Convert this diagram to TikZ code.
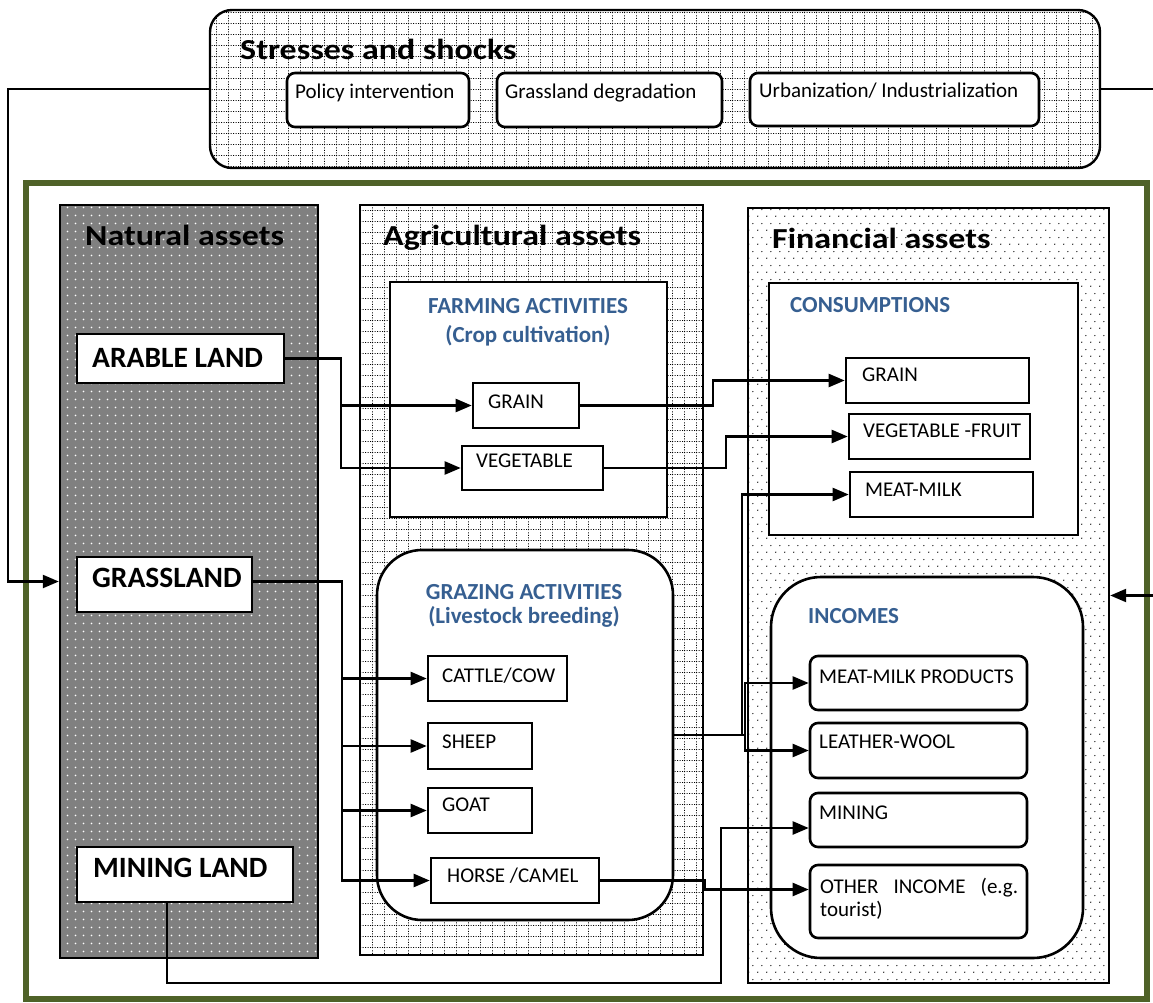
\documentclass[tikz,border=0pt]{standalone}
\usepackage{fontspec}
\setmainfont{Carlito}
\newfontfamily\ttlfont[FakeStretch=1.17]{Carlito}
\usetikzlibrary{arrows.meta,patterns.meta}
\definecolor{frameg}{RGB}{79,98,40}
\definecolor{hblue}{RGB}{54,95,145}
\tikzdeclarepattern{
  name=dgrid, type=uncolored,
  bounding box={(0pt,0pt) and (12pt,11pt)},
  tile size={(12pt,11pt)},
  code={
    \draw[line width=1pt, dash pattern=on 1.2pt off 1.55pt] (0pt,0.5pt) -- (12pt,0.5pt);
    \draw[line width=1pt, dash pattern=on 1.2pt off 1.55pt] (0.5pt,0pt) -- (0.5pt,11pt);
  }
}
\tikzdeclarepattern{
  name=wdots, type=uncolored,
  bounding box={(0pt,0pt) and (8pt,8pt)},
  tile size={(8pt,8pt)},
  code={\fill (4pt,4pt) circle[radius=1pt];}
}
\tikzdeclarepattern{
  name=sdots, type=uncolored,
  bounding box={(0pt,0pt) and (9pt,14pt)},
  tile size={(9pt,14pt)},
  code={\fill (2pt,3pt) circle[radius=0.75pt]; \fill (6.5pt,10pt) circle[radius=0.75pt];}
}
\tikzset{
  panel/.style={draw, line width=2.4pt, inner sep=0pt},
  bx/.style={draw, line width=2.6pt, fill=white, inner sep=0pt},
  rbx/.style={bx, rounded corners=8pt},
  ttl/.style={font=\fontsize{29}{31}\ttlfont\bfseries, inner sep=0pt, anchor=base west},
  land/.style={font=\fontsize{29.5}{31}\selectfont\bfseries, inner sep=0pt, anchor=base west},
  hd/.style={font=\fontsize{23}{26}\selectfont\bfseries, text=hblue, inner sep=0pt},
  lb/.style={font=\fontsize{21}{23}\selectfont, inner sep=0pt, anchor=base west},
  conn/.style={line width=2.3pt},
  arr/.style={conn, -{Triangle[length=16pt,width=13pt]}},
}
\begin{document}
\begin{tikzpicture}[x=1pt,y=-1pt]
\useasboundingbox (0,0) rectangle (1153,1003);
% frame
\node[draw=frameg, line width=6.5pt, inner sep=0pt, minimum width=1121pt, minimum height=816pt] (frame) at (586.5,591) {};
% stresses
\node[panel, rounded corners=22pt, preaction={fill=white}, pattern={dgrid}, pattern color=black, minimum width=890pt, minimum height=158pt] (stress) at (655,89) {};
\node[ttl] (stressT) at (240,60) {Stresses and shocks};
\node[rbx, minimum width=182pt, minimum height=54pt] (pol) at (378,100) {};
\node[rbx, minimum width=225pt, minimum height=54pt] (gdeg) at (609.5,100) {};
\node[rbx, minimum width=289pt, minimum height=53pt] (urb) at (894.5,99.5) {};
\node[lb] (polT) at (295,99) {Policy intervention};
\node[lb] (gdegT) at (505,99) {Grassland degradation};
\node[lb] (urbT) at (759,98) {Urbanization/ Industrialization};
% panels
\node[panel, preaction={fill=black!50}, pattern={wdots}, pattern color=white, minimum width=258pt, minimum height=753pt] (natural) at (189,581.5) {};
\node[panel, preaction={fill=white}, pattern={dgrid}, pattern color=black, minimum width=343pt, minimum height=750pt] (agri) at (531.5,580) {};
\node[panel, preaction={fill=white}, pattern={sdots}, pattern color=black, minimum width=361pt, minimum height=775pt] (fin) at (928.5,595.5) {};
\node[ttl] (naturalT) at (85,245) {Natural assets};
\node[ttl] (agriT) at (383,245) {Agricultural assets};
\node[ttl] (finT) at (772,248) {Financial assets};
% natural
\node[bx, minimum width=207pt, minimum height=49pt] (arable) at (180.5,358.5) {};
\node[bx, minimum width=175pt, minimum height=55pt] (grass) at (164.5,584.5) {};
\node[bx, minimum width=216pt, minimum height=55pt] (mining) at (185,874.5) {};
\node[land] (arableT) at (92,367) {ARABLE LAND};
\node[land] (grassT) at (92,587) {GRASSLAND};
\node[land] (miningT) at (93,877) {MINING LAND};
% agricultural
\node[bx, minimum width=277pt, minimum height=235pt] (farm) at (528.5,399.5) {};
\node[hd, anchor=base] (farmT1) at (528,313) {FARMING ACTIVITIES};
\node[hd, anchor=base] (farmT2) at (528,342) {(Crop cultivation)};
\node[bx, minimum width=106pt, minimum height=45pt] (g1) at (526,405.5) {};
\node[bx, minimum width=141pt, minimum height=44pt] (v1) at (532.5,468) {};
\node[lb] (g1T) at (488,408) {GRAIN};
\node[lb] (v1T) at (476,467) {VEGETABLE};
\node[bx, rounded corners=45pt, minimum width=296pt, minimum height=370pt] (graz) at (525,735) {};
\node[hd, anchor=base] (grazT1) at (524,599) {GRAZING ACTIVITIES};
\node[hd, anchor=base] (grazT2) at (524,623) {(Livestock breeding)};
\node[bx, minimum width=139pt, minimum height=45pt] (cattle) at (497.5,678.5) {};
\node[bx, minimum width=104pt, minimum height=46pt] (sheep) at (480,746) {};
\node[bx, minimum width=104pt, minimum height=45pt] (goat) at (480,810.5) {};
\node[bx, minimum width=168pt, minimum height=45pt] (horse) at (515,880.5) {};
\node[lb] (cattleT) at (442,682) {CATTLE/COW};
\node[lb] (sheepT) at (442,748) {SHEEP};
\node[lb] (goatT) at (442,811) {GOAT};
\node[lb] (horseT) at (447,882) {HORSE /CAMEL};
% financial
\node[bx, minimum width=309pt, minimum height=252pt] (cons) at (923.5,409) {};
\node[hd, anchor=base west] (consT) at (790,312) {CONSUMPTIONS};
\node[bx, minimum width=183pt, minimum height=45pt] (cgrain) at (937.5,380.5) {};
\node[bx, minimum width=181pt, minimum height=45pt] (cveg) at (939.5,436.5) {};
\node[bx, minimum width=183pt, minimum height=45pt] (cmeat) at (941.5,494.5) {};
\node[lb] (cgrainT) at (862,381) {GRAIN};
\node[lb] (cvegT) at (863,437) {VEGETABLE -FRUIT};
\node[lb] (cmeatT) at (865,496) {MEAT-MILK};
\node[bx, rounded corners=50pt, minimum width=312pt, minimum height=381pt] (inc) at (927,767.5) {};
\node[hd, anchor=base west] (incT) at (808,623) {INCOMES};
\node[rbx, minimum width=217pt, minimum height=54pt] (imeat) at (918.5,683) {};
\node[rbx, minimum width=217pt, minimum height=55pt] (ileather) at (918.5,750.5) {};
\node[rbx, minimum width=217pt, minimum height=54pt] (imining) at (918.5,820) {};
\node[rbx, minimum width=217pt, minimum height=73pt] (iother) at (918.5,901.5) {};
\node[lb] (imeatT) at (819,683) {MEAT-MILK PRODUCTS};
\node[lb] (ileatherT) at (819,748) {LEATHER-WOOL};
\node[lb] (iminingT) at (819,819) {MINING};
\node[lb, text width=198pt, align=justify] (iotherT) at (820,893) {OTHER INCOME (e.g. tourist)};
% connectors
\coordinate (lx) at (8,89);
\coordinate (rx1) at (1153,89);
\coordinate (rx2) at (1153,595.5);
\coordinate (mbot) at (721,983);
\draw[arr] (stress.west) -- (lx) |- (natural.west);
\draw[conn] (stress.east) -- (rx1);
\draw[arr] (rx2) -- (fin.east);
\draw[arr] (arable.east) -- ++(56,0) |- (g1.west);
\draw[arr] (arable.east) -- ++(56,0) |- (v1.west);
\draw[arr] (g1.east) -- ++(133,0) |- (cgrain.west);
\draw[arr] (v1.east) -- ++(122,0) |- (cveg.west);
\draw[arr] ([yshift=3pt]grass.east) -- ++(89,0) |- (cattle.west);
\draw[arr] ([yshift=3pt]grass.east) -- ++(89,0) |- (sheep.west);
\draw[arr] ([yshift=3pt]grass.east) -- ++(89,0) |- (goat.west);
\draw[arr] ([yshift=3pt]grass.east) -- ++(89,0) |- (horse.west);
\draw[arr] (graz.east) -- ++(68,0) |- (cmeat.west);
\draw[arr] (graz.east) -- ++(71,0) |- (imeat.west);
\draw[arr] (graz.east) -- ++(71,0) |- (ileather.west);
\draw[arr] (horse.east) -- ++(105,0) |- ([yshift=12pt]iother.west);
\draw[arr] ([xshift=-18pt]mining.south) |- (mbot) |- ([yshift=-8pt]imining.west);
\end{tikzpicture}
\end{document}
